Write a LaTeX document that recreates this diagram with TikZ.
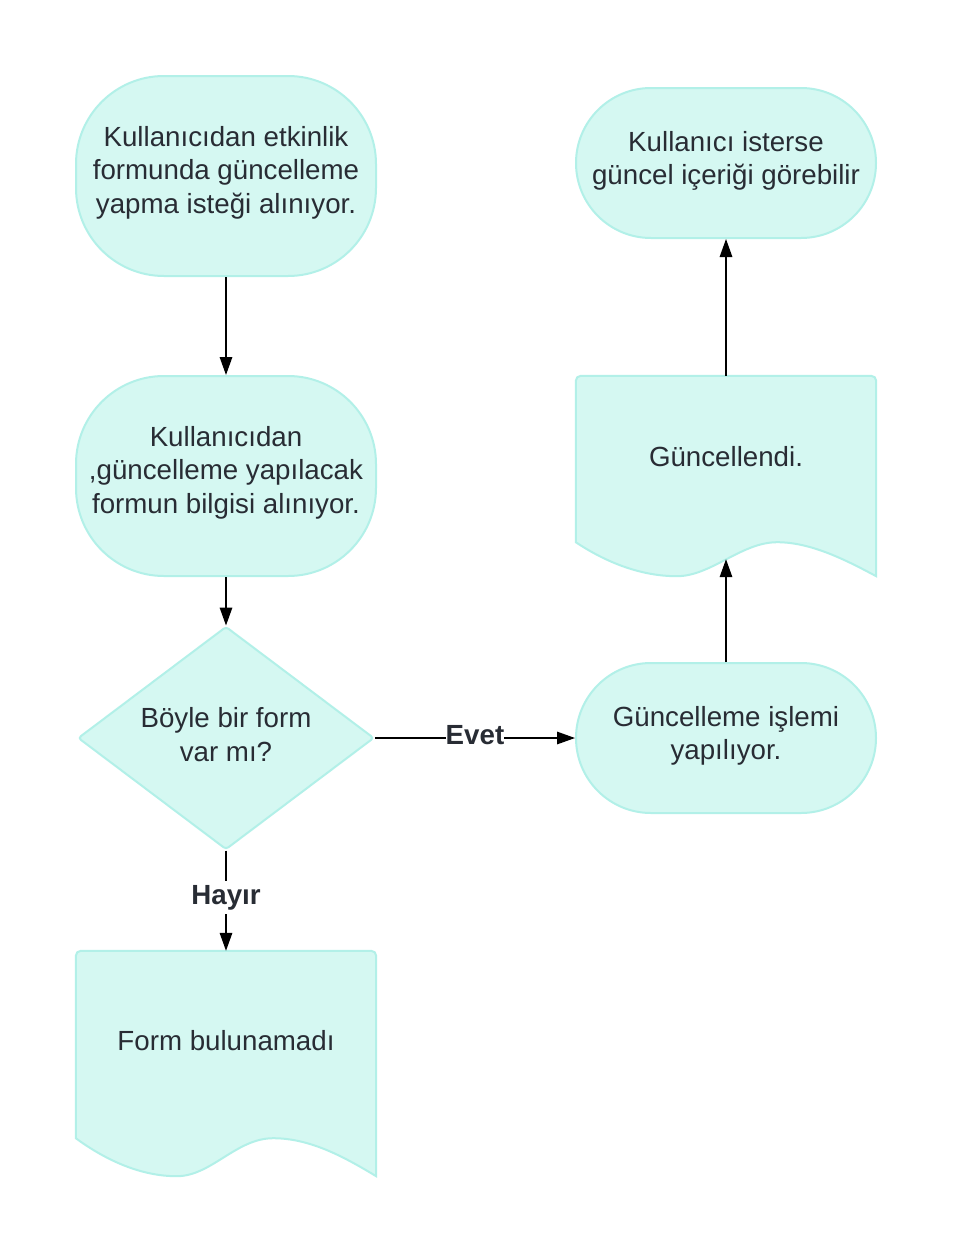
\documentclass[tikz,border=0pt]{standalone}
\usepackage{fontspec}
\setmainfont{Liberation Sans}
\usetikzlibrary{shapes.geometric,arrows.meta,calc}
\definecolor{shapefill}{RGB}{213,248,242}
\definecolor{shapeline}{RGB}{178,240,232}
\definecolor{txt}{RGB}{40,44,52}
\begin{document}
\begin{tikzpicture}[x=1pt,y=-1pt,
  txtstyle/.style={text=txt,align=center,inner sep=0pt,font=\fontsize{27.7}{33.5}\selectfont},
  inlabel/.style={txtstyle,yshift=3.5pt},
  base/.style={fill=shapefill,draw=shapeline,line width=2pt,inner sep=0pt},
  stadium/.style={base,rectangle,minimum width=300pt},
  tall/.style={stadium,minimum height=200pt,rounded corners=88pt},
  short/.style={stadium,minimum height=150pt,rounded corners=75pt},
  decision/.style={base,diamond,aspect=1.327,minimum width=296pt,minimum height=223pt,rounded corners=3pt},
  docbox/.style={rectangle,minimum width=300pt,inner sep=0pt},
  docshape/.style={fill=shapefill,draw=shapeline,line width=2pt},
  conn/.style={line width=1.5pt,-{Triangle[length=18pt,width=12.5pt]}},
  lbl/.style={fill=white,inner xsep=0pt,inner ysep=4pt,text=txt,font=\fontsize{27.7}{33.5}\selectfont\bfseries}]
\fill[white] (0,0) rectangle (953,1253);
\useasboundingbox (0,0) rectangle (953,1253);

% terminators
\node[tall,label={[inlabel]center:Kullanıcıdan etkinlik\\formunda güncelleme\\yapma isteği alınıyor.}] (n1) at (226,176) {};
\node[tall,label={[inlabel]center:Kullanıcıdan\\,güncelleme yapılacak\\formun bilgisi alınıyor.}] (n2) at (226,476) {};
\node[decision,label={[inlabel]center:Böyle bir form\\var mı?}] (d) at (226,738) {};
\node[short,label={[inlabel,yshift=-1.5pt]center:Güncelleme işlemi\\yapılıyor.}] (n3) at (726,738) {};
\node[short,label={[inlabel,yshift=-1.5pt]center:Kullanıcı isterse\\güncel içeriği görebilir}] (n4) at (726,163) {};

% document: Güncellendi.
\node[docbox,minimum height=166pt] (g) at (726,459) {};
\draw[docshape] (g.south west) [rounded corners=5pt] -- (g.north west) -- (g.north east) [sharp corners]
  -- ($(g.south east)+(0,34)$)
  .. controls ($(g.south east)+(-30,18)$) and ($(g.south east)+(-65,0)$) .. ($(g.south east)+(-99,0)$)
  .. controls ($(g.south east)+(-135,0)$) and ($(g.south east)+(-165,34)$) .. ($(g.south west)+(101,34)$)
  .. controls ($(g.south west)+(65,34)$) and ($(g.south west)+(30,20)$) .. (g.south west) -- cycle;
\node[txtstyle,yshift=2pt] (gt) at (g) {Güncellendi.};
\coordinate (gw) at ($(g.south)+(0,17)$);

% document: Form bulunamadı
\node[docbox,minimum height=187pt] (f) at (226,1044.5) {};
\draw[docshape] (f.south west) [rounded corners=5pt] -- (f.north west) -- (f.north east) [sharp corners]
  -- ($(f.south east)+(0,38)$)
  .. controls ($(f.south east)+(-30,20)$) and ($(f.south east)+(-65,0)$) .. ($(f.south east)+(-103,0)$)
  .. controls ($(f.south east)+(-140,0)$) and ($(f.south east)+(-165,38)$) .. ($(f.south west)+(101,38)$)
  .. controls ($(f.south west)+(65,38)$) and ($(f.south west)+(30,22)$) .. (f.south west) -- cycle;
\node[txtstyle,yshift=3.5pt] (ft) at (f) {Form bulunamadı};

% connectors
\draw[conn] (n1.south) -- (n2.north);
\draw[conn] (n2.south) -- (d.north);
\draw[conn] (d.south) -- node[lbl,pos=0.47] {Hayır} (f.north);
\draw[conn] (d.east) -- node[lbl,yshift=2.5pt] {Evet} (n3.west);
\draw[conn] (n3.north) -- (gw);
\draw[conn] (g.north) -- (n4.south);
\end{tikzpicture}
\end{document}
